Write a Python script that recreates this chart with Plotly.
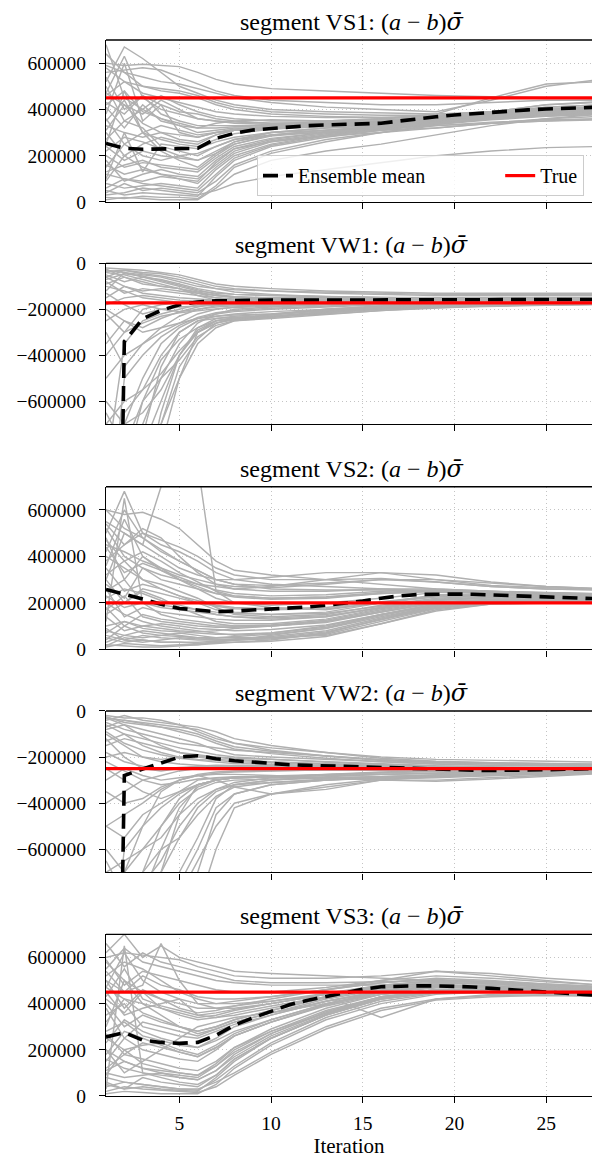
import plotly.graph_objects as go

# ---------------------------------------------------------------------------
# Data (values in thousands)
# ---------------------------------------------------------------------------
segments = ["VS1", "VW1", "VS2", "VW2", "VS3"]
true_values = [450, -172, 200, -250, 450]

iterations = list(range(1, 29))
member_iters = [1, 2, 3, 4, 5, 6, 7, 8, 10, 13, 16, 19, 22, 25, 28]

y_ticks_pos = [0, 200000, 400000, 600000]
y_ticks_neg = [-600000, -400000, -200000, 0]
x_ticks = [5, 10, 15, 20, 25]

vs1_mean = [253, 232, 228, 229, 230, 232, 275, 297, 311, 318, 325, 330, 333, 336,
            337, 340, 350, 360, 368, 376, 382, 388, 394, 398, 402, 405, 408, 410]
vw1_mean = [-5000, -340, -241, -205, -180, -168, -163, -161, -160, -160, -160, -160, -160, -160,
            -160, -160, -159, -159, -159, -158, -158, -158, -158, -158, -157, -157, -157, -157]
vs2_mean = [258, 238, 217, 194, 176, 169, 162, 165, 169, 174, 176, 182, 190, 198,
            208, 220, 230, 236, 238, 238, 237, 234, 230, 226, 222, 220, 218, 217]
vw2_mean = [-5000, -280, -252, -226, -200, -194, -207, -216, -222, -229, -233, -236, -239, -241,
            -243, -245, -247, -250, -253, -255, -257, -258, -258, -257, -255, -253, -251, -249]
vs3_mean = [256, 275, 242, 232, 228, 232, 263, 307, 338, 367, 395, 415, 432, 445,
            462, 473, 476, 477, 477, 476, 472, 466, 460, 455, 450, 445, 440, 436]

vs1_members = [
    [600, 590, 595, 590, 585, 560, 530, 510, 490, 480, 470, 460, 455, 450, 445],
    [520, 670, 620, 560, 500, 470, 440, 420, 400, 390, 385, 380, 390, 400, 405],
    [430, 380, 460, 420, 390, 380, 360, 350, 340, 345, 350, 360, 380, 400, 410],
    [300, 200, 250, 280, 260, 250, 290, 310, 320, 330, 340, 360, 380, 390, 395],
    [120, 100, 90, 110, 100, 90, 170, 230, 270, 300, 320, 350, 370, 385, 395],
    [50, 30, 40, 35, 30, 25, 110, 180, 240, 280, 310, 340, 360, 375, 385],
    [680, 450, 400, 360, 330, 320, 340, 350, 355, 350, 360, 370, 390, 420, 430],
    [250, 480, 300, 220, 180, 150, 210, 260, 300, 320, 330, 345, 365, 380, 390],
    [10, 20, 15, 10, 10, 10, 60, 120, 180, 220, 250, 290, 330, 360, 380],
    [560, 570, 580, 570, 540, 510, 480, 460, 440, 430, 420, 420, 430, 440, 440],
    [200, 150, 170, 160, 150, 140, 200, 250, 290, 310, 330, 350, 365, 375, 380],
    [380, 600, 350, 420, 300, 280, 300, 310, 320, 330, 335, 350, 370, 390, 400],
    [80, 60, 70, 80, 70, 60, 140, 200, 250, 290, 320, 350, 375, 390, 400],
    [470, 420, 380, 440, 400, 360, 350, 340, 335, 340, 345, 360, 390, 420, 435],
    [150, 250, 200, 180, 200, 210, 240, 270, 300, 320, 330, 350, 380, 410, 420],
    [330, 300, 280, 300, 270, 260, 290, 310, 330, 350, 360, 380, 450, 510, 520],
    [30, 40, 60, 50, 40, 30, 50, 80, 110, 140, 170, 200, 220, 235, 240],
    [590, 560, 540, 520, 510, 490, 470, 450, 430, 410, 400, 390, 440, 500, 530],
    [410, 320, 420, 350, 330, 300, 310, 320, 320, 330, 340, 355, 370, 380, 385],
    [100, 300, 130, 250, 240, 230, 260, 280, 300, 310, 320, 330, 340, 350, 355],
    [20, 15, 25, 20, 20, 15, 70, 150, 210, 260, 300, 330, 345, 355, 360],
    [460, 520, 470, 450, 430, 410, 390, 380, 370, 365, 365, 370, 380, 390, 395],
    [270, 350, 320, 240, 220, 200, 240, 270, 290, 300, 310, 320, 340, 350, 360],
    [180, 90, 120, 140, 120, 110, 180, 230, 260, 285, 300, 320, 340, 360, 370],
    [640, 560, 500, 480, 470, 450, 420, 400, 380, 370, 365, 370, 385, 395, 400],
    [360, 250, 300, 330, 310, 290, 300, 310, 315, 325, 335, 350, 375, 395, 405],
    [90, 200, 150, 120, 100, 80, 150, 210, 260, 290, 310, 335, 360, 375, 385],
    [470, 630, 450, 400, 380, 360, 350, 345, 340, 340, 345, 360, 380, 395, 400],
    [40, 80, 50, 60, 50, 40, 90, 160, 220, 270, 300, 335, 355, 370, 378],
    [220, 280, 260, 230, 200, 180, 220, 260, 290, 310, 325, 345, 370, 385, 392],
    [540, 400, 460, 380, 350, 330, 330, 330, 330, 335, 345, 360, 385, 400, 410],
    [310, 420, 340, 300, 290, 280, 300, 315, 325, 335, 345, 360, 380, 395, 400],
    [160, 120, 140, 120, 110, 100, 160, 220, 265, 295, 315, 340, 360, 372, 380],
    [500, 350, 400, 460, 420, 390, 370, 360, 350, 350, 355, 365, 385, 400, 405],
    [60, 100, 80, 70, 60, 50, 120, 190, 245, 285, 315, 345, 365, 380, 388],
    [420, 480, 390, 360, 340, 320, 320, 325, 330, 340, 350, 365, 390, 410, 420],
    [240, 180, 220, 200, 190, 180, 210, 250, 285, 305, 320, 340, 360, 372, 380],
    [580, 520, 500, 490, 480, 460, 430, 410, 390, 380, 375, 375, 390, 405, 410],
    [130, 160, 180, 150, 140, 130, 190, 240, 275, 300, 320, 345, 370, 385, 392],
    [350, 440, 300, 270, 250, 240, 270, 295, 315, 330, 340, 355, 375, 390, 398],
]

vw1_members = [
    [-30, -40, -50, -60, -80, -100, -110, -115, -120, -125, -130, -135, -135, -135, -135],
    [-900, -350, -250, -220, -200, -180, -170, -165, -160, -155, -155, -155, -150, -150, -150],
    [-60, -30, -40, -45, -60, -80, -100, -110, -120, -130, -135, -140, -140, -140, -140],
    [-1500, -800, -700, -500, -350, -260, -220, -200, -190, -180, -175, -170, -168, -165, -165],
    [-100, -120, -150, -160, -170, -175, -180, -180, -180, -175, -170, -168, -165, -165, -162],
    [-800, -900, -750, -450, -300, -250, -230, -220, -210, -200, -190, -180, -175, -170, -170],
    [-50, -80, -60, -80, -100, -120, -130, -135, -140, -145, -150, -150, -150, -150, -150],
    [-200, -250, -300, -280, -260, -240, -230, -225, -220, -200, -185, -175, -170, -168, -165],
    [-1200, -1000, -900, -800, -500, -300, -250, -240, -230, -210, -190, -180, -175, -172, -170],
    [-20, -25, -30, -40, -50, -70, -90, -100, -110, -120, -125, -130, -130, -130, -130],
    [-400, -300, -200, -180, -170, -165, -160, -160, -158, -155, -155, -155, -155, -155, -155],
    [-700, -600, -550, -400, -300, -250, -240, -235, -230, -220, -205, -195, -185, -180, -178],
    [-150, -100, -130, -140, -150, -155, -160, -160, -160, -160, -160, -160, -158, -158, -158],
    [-1000, -1100, -800, -700, -450, -330, -260, -240, -235, -215, -200, -190, -185, -180, -178],
    [-60, -100, -120, -110, -120, -130, -140, -145, -150, -150, -150, -150, -148, -148, -148],
    [-300, -450, -350, -300, -260, -220, -200, -190, -180, -170, -165, -162, -160, -160, -160],
    [-90, -60, -80, -100, -110, -130, -150, -160, -165, -165, -165, -165, -162, -162, -160],
    [-1800, -900, -600, -420, -330, -280, -250, -240, -232, -210, -195, -185, -180, -178, -175],
    [-40, -50, -70, -90, -110, -140, -160, -170, -175, -175, -172, -170, -168, -166, -165],
    [-250, -200, -180, -200, -210, -200, -190, -185, -180, -175, -170, -168, -165, -163, -162],
    [-600, -700, -650, -550, -400, -280, -240, -230, -220, -205, -195, -188, -182, -180, -178],
    [-120, -40, -60, -70, -90, -110, -125, -135, -140, -145, -148, -150, -150, -150, -150],
    [-2500, -1200, -800, -600, -400, -300, -260, -240, -225, -200, -185, -175, -170, -168, -165],
    [-35, -30, -45, -55, -70, -90, -110, -125, -135, -145, -150, -152, -152, -152, -150],
    [-1500, -1500, -1000, -650, -400, -290, -250, -235, -225, -205, -190, -182, -178, -175, -172],
    [-180, -150, -140, -150, -160, -165, -168, -170, -170, -168, -165, -162, -160, -160, -158],
    [-500, -400, -350, -280, -230, -200, -185, -178, -172, -166, -162, -160, -158, -157, -156],
    [-2000, -700, -500, -350, -280, -240, -220, -210, -200, -190, -180, -175, -170, -168, -166],
    [-70, -45, -55, -75, -95, -115, -135, -145, -152, -156, -158, -158, -157, -156, -155],
    [-900, -1000, -900, -700, -500, -350, -280, -250, -235, -212, -196, -186, -180, -176, -174],
    [-130, -180, -220, -200, -190, -185, -180, -178, -175, -170, -166, -163, -160, -159, -158],
    [-350, -250, -280, -240, -210, -190, -175, -170, -165, -160, -158, -156, -155, -154, -154],
    [-1100, -650, -550, -480, -380, -300, -260, -245, -235, -215, -198, -188, -182, -178, -176],
    [-25, -60, -90, -100, -110, -125, -140, -150, -155, -158, -158, -157, -155, -154, -153],
    [-650, -800, -600, -500, -420, -320, -270, -250, -240, -222, -205, -192, -186, -182, -180],
    [-220, -300, -260, -230, -215, -205, -198, -192, -186, -178, -172, -168, -165, -163, -162],
    [-1300, -500, -400, -320, -270, -235, -215, -205, -195, -185, -176, -170, -166, -164, -162],
    [-80, -130, -110, -120, -130, -140, -150, -155, -158, -160, -160, -160, -159, -158, -157],
]

vs2_members = [
    [600, 580, 590, 560, 520, 450, 380, 340, 320, 300, 280, 260, 250, 240, 235],
    [500, 680, 500, 450, 420, 380, 330, 300, 280, 270, 260, 250, 240, 235, 230],
    [200, 150, 120, 100, 90, 80, 70, 60, 70, 100, 150, 190, 210, 215, 215],
    [50, 30, 40, 30, 30, 25, 30, 30, 40, 70, 130, 180, 200, 205, 205],
    [400, 350, 300, 280, 250, 220, 180, 150, 140, 150, 190, 220, 230, 228, 225],
    [100, 120, 100, 90, 80, 75, 80, 90, 100, 120, 160, 200, 215, 215, 212],
    [300, 500, 450, 700, 900, 800, 250, 200, 180, 170, 200, 230, 235, 230, 225],
    [150, 200, 250, 220, 180, 150, 120, 110, 110, 130, 175, 210, 222, 220, 218],
    [20, 15, 10, 10, 15, 20, 30, 40, 60, 90, 150, 195, 210, 212, 210],
    [450, 420, 380, 350, 320, 300, 280, 270, 265, 280, 300, 290, 270, 260, 255],
    [250, 300, 200, 180, 170, 160, 150, 140, 130, 140, 180, 215, 225, 222, 220],
    [80, 60, 50, 60, 70, 60, 50, 50, 50, 60, 110, 170, 195, 200, 200],
    [550, 500, 450, 400, 350, 320, 300, 300, 310, 330, 330, 300, 275, 265, 260],
    [350, 250, 280, 260, 230, 200, 170, 160, 150, 160, 200, 235, 240, 235, 230],
    [180, 100, 150, 130, 120, 110, 100, 100, 105, 125, 170, 205, 215, 215, 212],
    [480, 300, 400, 350, 300, 260, 220, 200, 190, 200, 220, 245, 245, 240, 235],
    [30, 60, 80, 70, 60, 50, 45, 40, 45, 70, 130, 185, 205, 208, 208],
    [280, 220, 350, 300, 280, 260, 240, 230, 220, 225, 240, 250, 245, 240, 238],
    [120, 650, 200, 150, 130, 120, 110, 100, 100, 115, 160, 200, 212, 212, 210],
    [380, 450, 520, 480, 400, 330, 280, 260, 250, 250, 260, 260, 250, 245, 240],
    [60, 40, 30, 40, 50, 45, 40, 40, 45, 65, 120, 175, 200, 205, 205],
    [230, 180, 200, 190, 180, 170, 160, 155, 150, 155, 185, 215, 225, 224, 220],
    [520, 400, 350, 320, 300, 280, 270, 260, 270, 300, 330, 320, 290, 270, 260],
    [10, 25, 20, 15, 20, 20, 25, 30, 35, 55, 110, 165, 195, 200, 202],
    [420, 600, 480, 420, 380, 340, 300, 280, 260, 255, 255, 250, 245, 240, 236],
    [140, 80, 100, 110, 100, 90, 85, 80, 85, 105, 150, 195, 210, 212, 210],
    [320, 380, 300, 260, 230, 210, 190, 180, 175, 180, 205, 230, 235, 232, 228],
    [40, 100, 70, 60, 55, 50, 50, 55, 65, 90, 140, 185, 205, 208, 206],
    [600, 520, 480, 430, 380, 340, 300, 280, 275, 285, 300, 300, 285, 270, 262],
    [220, 260, 240, 210, 190, 170, 150, 140, 135, 145, 180, 212, 222, 222, 218],
    [90, 40, 60, 50, 45, 40, 40, 45, 55, 80, 135, 185, 205, 208, 207],
    [470, 380, 420, 380, 330, 290, 250, 230, 220, 225, 245, 255, 248, 240, 236],
    [260, 140, 180, 160, 150, 140, 130, 125, 125, 140, 180, 212, 222, 220, 217],
    [360, 560, 400, 340, 300, 270, 240, 225, 215, 220, 240, 250, 245, 240, 236],
    [15, 50, 40, 30, 30, 30, 35, 40, 50, 75, 125, 178, 200, 205, 204],
    [540, 450, 500, 470, 440, 400, 350, 320, 300, 300, 305, 290, 270, 260, 255],
    [170, 230, 140, 120, 110, 100, 95, 95, 100, 120, 165, 203, 215, 216, 213],
    [300, 200, 260, 240, 220, 200, 185, 175, 170, 175, 200, 225, 232, 230, 226],
    [70, 120, 90, 80, 75, 70, 65, 65, 70, 95, 145, 190, 208, 210, 208],
    [440, 330, 370, 340, 310, 280, 255, 240, 230, 235, 250, 255, 248, 242, 238],
]

vw2_members = [
    [-20, -30, -30, -40, -60, -90, -120, -140, -160, -180, -200, -210, -215, -220, -222],
    [-900, -700, -500, -350, -300, -280, -270, -265, -260, -255, -255, -255, -255, -252, -250],
    [-50, -80, -100, -120, -140, -150, -160, -170, -180, -195, -210, -220, -225, -228, -230],
    [-1500, -1200, -900, -700, -450, -320, -300, -290, -285, -280, -275, -270, -265, -262, -258],
    [-100, -150, -200, -220, -230, -235, -240, -240, -240, -240, -242, -245, -248, -250, -250],
    [-800, -900, -800, -750, -700, -550, -380, -320, -300, -290, -285, -280, -275, -270, -265],
    [-30, -40, -50, -60, -70, -80, -110, -140, -170, -195, -215, -225, -230, -232, -235],
    [-300, -250, -280, -300, -290, -280, -300, -330, -360, -340, -300, -280, -270, -265, -260],
    [-1200, -1000, -950, -850, -750, -600, -420, -360, -320, -300, -290, -285, -280, -275, -270],
    [-200, -180, -200, -210, -200, -195, -200, -205, -210, -220, -230, -238, -242, -245, -246],
    [-400, -350, -300, -280, -260, -250, -245, -245, -245, -248, -250, -252, -252, -252, -252],
    [-700, -650, -600, -550, -450, -380, -340, -320, -310, -300, -290, -280, -270, -265, -262],
    [-80, -60, -80, -100, -120, -140, -170, -190, -200, -210, -220, -230, -235, -238, -240],
    [-1000, -1100, -1000, -900, -800, -650, -500, -400, -360, -330, -300, -285, -275, -268, -262],
    [-150, -120, -140, -160, -180, -190, -200, -210, -220, -230, -238, -243, -246, -248, -248],
    [-500, -550, -450, -400, -350, -300, -290, -285, -285, -290, -295, -290, -280, -272, -265],
    [-60, -100, -150, -180, -200, -210, -215, -220, -225, -232, -240, -245, -248, -250, -250],
    [-1800, -1000, -800, -600, -420, -330, -300, -290, -285, -275, -268, -262, -258, -255, -254],
    [-40, -20, -40, -50, -60, -70, -90, -120, -150, -180, -205, -218, -225, -230, -232],
    [-250, -300, -350, -380, -350, -320, -300, -290, -285, -290, -300, -305, -295, -282, -272],
    [-600, -700, -750, -650, -500, -400, -340, -310, -290, -275, -265, -258, -254, -252, -251],
    [-120, -200, -250, -260, -250, -240, -235, -235, -238, -242, -248, -252, -254, -254, -253],
    [-2500, -1200, -900, -700, -550, -420, -350, -320, -300, -285, -275, -268, -262, -258, -255],
    [-25, -50, -60, -70, -80, -100, -130, -155, -175, -195, -212, -222, -228, -232, -235],
    [-1500, -1500, -1200, -1000, -900, -700, -450, -360, -320, -300, -288, -280, -272, -266, -260],
    [-180, -220, -240, -250, -245, -240, -238, -238, -240, -244, -248, -250, -252, -252, -251],
    [-500, -450, -400, -340, -300, -275, -265, -260, -258, -256, -256, -255, -254, -253, -252],
    [-2000, -900, -700, -500, -380, -320, -300, -290, -285, -280, -276, -270, -265, -260, -256],
    [-70, -40, -55, -70, -90, -110, -140, -165, -185, -205, -220, -230, -236, -238, -240],
    [-900, -1000, -1100, -1000, -950, -850, -600, -420, -360, -320, -295, -280, -270, -263, -258],
    [-130, -100, -120, -140, -160, -175, -190, -200, -210, -222, -232, -240, -245, -247, -248],
    [-350, -400, -380, -330, -300, -280, -275, -275, -280, -290, -300, -300, -290, -278, -268],
    [-1100, -700, -600, -500, -400, -340, -310, -300, -295, -290, -285, -278, -270, -264, -260],
    [-30, -60, -110, -150, -180, -200, -210, -215, -222, -230, -238, -244, -247, -249, -250],
    [-650, -800, -700, -600, -550, -450, -370, -330, -310, -295, -285, -276, -268, -262, -258],
    [-220, -260, -300, -320, -310, -295, -290, -288, -290, -292, -290, -282, -272, -265, -260],
    [-1300, -600, -500, -420, -360, -320, -300, -290, -282, -275, -268, -262, -258, -255, -253],
    [-90, -140, -170, -190, -205, -215, -222, -228, -232, -238, -243, -247, -250, -251, -251],
]

vs3_members = [
    [620, 700, 600, 650, 600, 580, 560, 540, 530, 520, 510, 500, 490, 480, 470],
    [550, 640, 580, 560, 540, 520, 500, 490, 480, 480, 480, 480, 470, 460, 455],
    [400, 300, 350, 320, 300, 280, 300, 330, 370, 430, 470, 480, 470, 460, 450],
    [200, 150, 120, 110, 100, 90, 140, 210, 290, 380, 440, 460, 460, 455, 445],
    [50, 30, 40, 30, 25, 20, 80, 150, 250, 350, 420, 450, 455, 450, 440],
    [300, 500, 400, 350, 300, 270, 290, 320, 360, 410, 450, 470, 470, 460, 450],
    [500, 450, 480, 660, 500, 400, 380, 380, 400, 440, 480, 500, 495, 480, 470],
    [100, 80, 90, 100, 90, 80, 130, 200, 280, 370, 430, 455, 460, 455, 448],
    [10, 20, 15, 10, 10, 10, 50, 120, 220, 330, 400, 440, 450, 445, 438],
    [600, 620, 610, 600, 590, 560, 540, 520, 510, 510, 520, 540, 530, 510, 495],
    [250, 200, 220, 230, 200, 180, 220, 270, 330, 400, 450, 470, 470, 460, 450],
    [450, 350, 380, 400, 420, 350, 340, 350, 380, 430, 470, 490, 485, 470, 460],
    [150, 250, 200, 180, 160, 150, 200, 260, 320, 390, 440, 460, 462, 455, 445],
    [350, 400, 300, 280, 260, 250, 280, 310, 350, 410, 455, 475, 475, 465, 455],
    [80, 60, 50, 40, 30, 30, 60, 100, 190, 300, 380, 420, 435, 438, 432],
    [520, 580, 550, 500, 450, 420, 400, 400, 410, 440, 470, 480, 475, 465, 458],
    [30, 650, 100, 80, 60, 50, 90, 160, 250, 350, 420, 450, 455, 452, 445],
    [420, 360, 450, 380, 350, 330, 340, 360, 390, 430, 340, 420, 440, 445, 440],
    [200, 100, 150, 200, 250, 300, 320, 340, 360, 400, 440, 460, 462, 455, 448],
    [580, 500, 450, 420, 380, 360, 370, 390, 420, 460, 500, 540, 520, 500, 480],
    [120, 180, 160, 140, 120, 110, 150, 210, 280, 360, 420, 450, 455, 450, 442],
    [280, 320, 260, 240, 220, 210, 250, 300, 350, 410, 455, 475, 472, 462, 452],
    [20, 40, 30, 25, 20, 15, 40, 90, 180, 290, 370, 415, 430, 435, 432],
    [470, 420, 400, 380, 360, 340, 350, 370, 400, 440, 475, 490, 485, 472, 462],
    [660, 560, 620, 580, 560, 540, 520, 500, 490, 490, 495, 500, 495, 485, 475],
    [380, 250, 320, 300, 280, 260, 290, 320, 360, 420, 460, 475, 470, 460, 452],
    [90, 200, 140, 120, 100, 90, 130, 190, 270, 360, 430, 458, 460, 455, 447],
    [470, 620, 500, 450, 420, 400, 400, 410, 430, 460, 490, 505, 495, 480, 468],
    [40, 60, 50, 40, 30, 25, 70, 130, 230, 340, 410, 445, 452, 450, 442],
    [230, 330, 280, 250, 230, 210, 240, 280, 330, 400, 450, 472, 472, 462, 452],
    [540, 450, 520, 480, 460, 430, 420, 420, 430, 460, 490, 510, 500, 485, 472],
    [160, 120, 100, 90, 80, 70, 110, 180, 270, 365, 430, 458, 462, 456, 448],
    [320, 420, 360, 330, 300, 280, 300, 330, 370, 425, 465, 482, 478, 466, 456],
    [60, 30, 80, 60, 50, 40, 90, 160, 250, 350, 420, 450, 456, 452, 444],
    [590, 480, 540, 520, 500, 480, 460, 450, 450, 470, 500, 520, 510, 495, 480],
    [270, 180, 230, 210, 190, 170, 210, 260, 320, 395, 448, 470, 470, 460, 450],
    [110, 150, 120, 100, 80, 70, 110, 170, 260, 355, 425, 455, 460, 455, 446],
    [430, 550, 420, 390, 370, 350, 360, 375, 400, 440, 475, 492, 486, 474, 463],
    [180, 280, 250, 220, 190, 170, 210, 260, 320, 395, 448, 470, 470, 460, 450],
    [500, 380, 460, 420, 400, 380, 380, 390, 410, 445, 480, 498, 490, 477, 466],
]

means = [vs1_mean, vw1_mean, vs2_mean, vw2_mean, vs3_mean]
members = [vs1_members, vw1_members, vs2_members, vw2_members, vs3_members]

# ---------------------------------------------------------------------------
# Layout geometry
# ---------------------------------------------------------------------------
W, H = 592, 1160
M_L, M_R, M_T, M_B = 106, 0, 40, 64
domains = [
    [0.8466, 1.0],
    [0.6361, 0.7885],
    [0.4230, 0.5770],
    [0.2118, 0.3646],
    [0.0, 0.1531],
]

FONT = "Liberation Serif"
GRAY = "#b0b0b0"
SCALE = 1000

fig = go.Figure()

for i, seg in enumerate(segments):
    n = i + 1
    xa = "x" if n == 1 else f"x{n}"
    ya = "y" if n == 1 else f"y{n}"

    for m in members[i]:
        fig.add_trace(go.Scatter(
            x=member_iters, y=[v * SCALE for v in m], mode="lines",
            line=dict(color=GRAY, width=1.45), xaxis=xa, yaxis=ya,
            showlegend=False, hoverinfo="skip"))

    fig.add_trace(go.Scatter(
        x=iterations, y=[v * SCALE for v in means[i]], mode="lines",
        line=dict(color="black", width=3.6, dash="15px,8px"),
        name="Ensemble mean" + "\u00a0" * 14, legendgroup="mean",
        showlegend=(i == 0), xaxis=xa, yaxis=ya))

    fig.add_trace(go.Scatter(
        x=[iterations[0], iterations[-1]],
        y=[true_values[i] * SCALE] * 2, mode="lines",
        line=dict(color="#ff0000", width=3.2),
        name="True", legendgroup="true",
        showlegend=(i == 0), xaxis=xa, yaxis=ya))

    positive = true_values[i] > 0
    yt = y_ticks_pos if positive else y_ticks_neg
    yrange = [0, 700000] if positive else [-700000, 0]

    axis_common = dict(
        showline=True, linecolor="black", linewidth=1.4,
        ticks="outside", ticklen=6, tickwidth=1.3, tickcolor="black",
        showgrid=True, gridcolor="#c4c4c4", gridwidth=1, griddash="1px,3px",
        zeroline=False,
    )

    fig.layout[f"xaxis{'' if n == 1 else n}"] = dict(
        axis_common, domain=[0, 1], anchor=ya, range=[1, 27.5],
        tickvals=x_ticks, showticklabels=(n == 5), ticklabelstandoff=3,
        title=dict(text="Iteration" if n == 5 else "", font=dict(size=21), standoff=2),
    )
    fig.layout[f"yaxis{'' if n == 1 else n}"] = dict(
        axis_common, domain=domains[i], anchor=xa, range=yrange,
        tickvals=yt, ticktext=[str(v).replace("-", "\u2212") for v in yt],
        ticklabelstandoff=9,
    )

    # top spine
    fig.add_shape(type="line", xref=f"{xa} domain", yref=f"{ya} domain",
                  x0=0, x1=1, y0=1, y1=1, line=dict(color="black", width=1.4))

    fig.add_annotation(
        text=(f"segment {seg}: (<i>a</i> \u2212 <i>b</i>)"
              "<span style=\"font-family:DejaVu Serif;font-style:italic\">\u03c3\u0304</span>"),
        xref="paper", yref=f"{ya} domain", x=0.506, y=1,
        xanchor="center", yanchor="bottom", yshift=2, showarrow=False,
        font=dict(size=24))

fig.update_layout(
    width=W, height=H,
    margin=dict(l=M_L, r=M_R, t=M_T, b=M_B),
    plot_bgcolor="white", paper_bgcolor="white",
    font=dict(family=FONT, size=19.5, color="black"),
    legend=dict(
        orientation="h", x=0.3107, y=0.891, xanchor="left", yanchor="top",
        bgcolor="rgba(255,255,255,0.8)", bordercolor="#cccccc", borderwidth=1,
        font=dict(size=20), traceorder="normal",
    ),
    showlegend=True,
)

fig.write_html("out.html")
